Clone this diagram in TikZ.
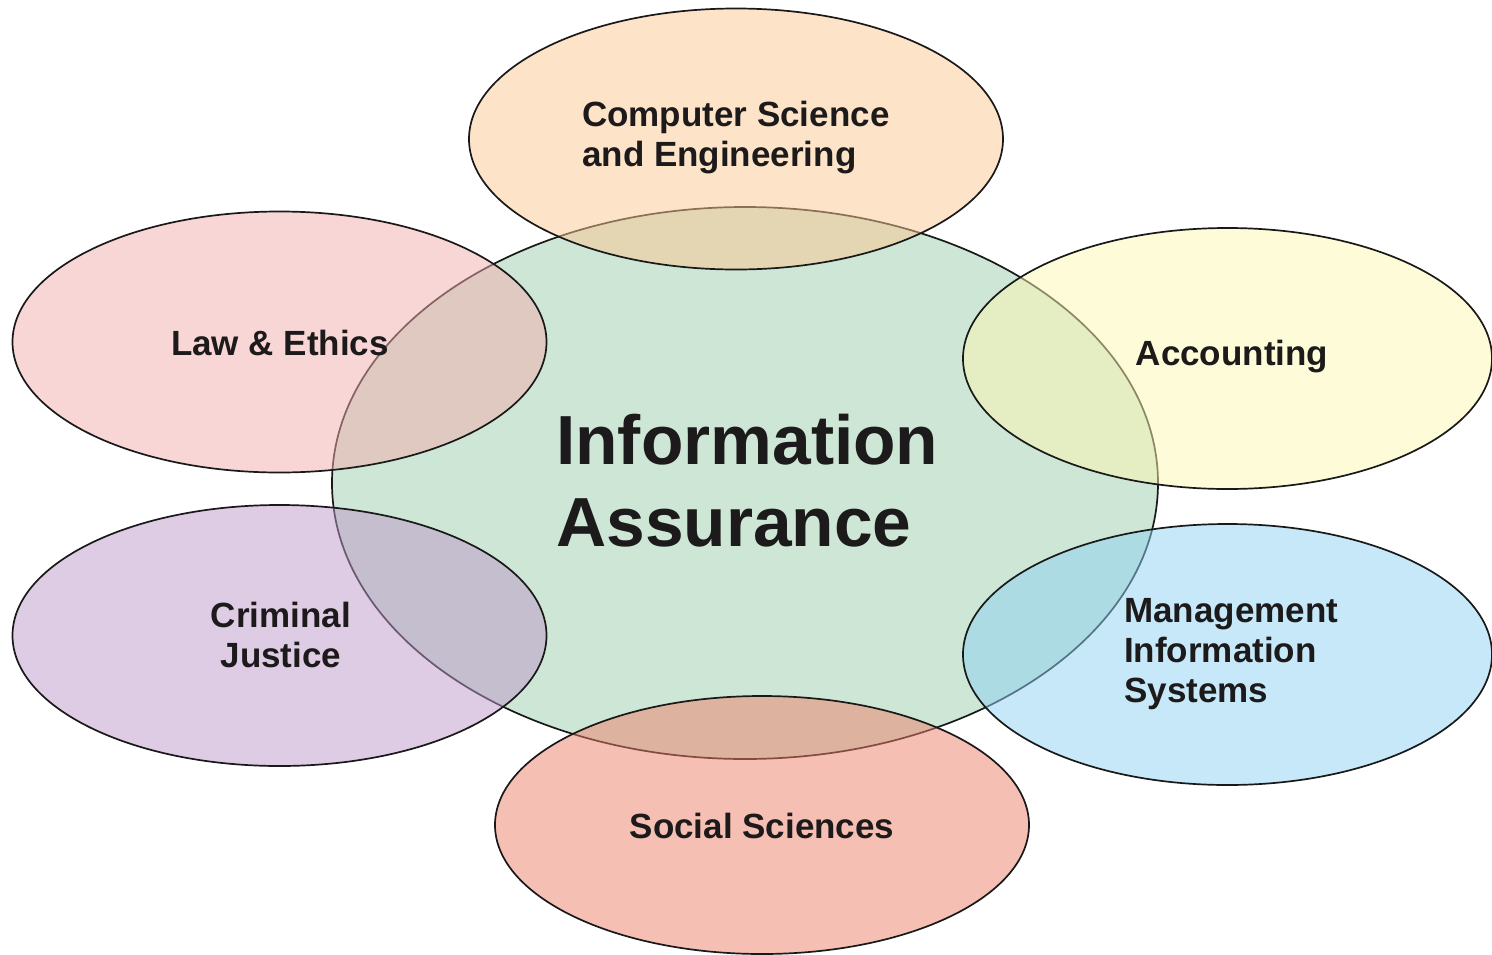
\documentclass[tikz,border=0pt]{standalone}
\usepackage{fontspec}
\setmainfont{Liberation Sans}
\usetikzlibrary{shapes.geometric}
\definecolor{iagreen}{RGB}{205,230,214}
\definecolor{cscol}{RGB}{251,199,145}
\definecolor{lawcol}{RGB}{243,173,173}
\definecolor{acccol}{RGB}{253,247,177}
\definecolor{cjcol}{RGB}{189,151,201}
\definecolor{miscol}{RGB}{141,209,241}
\definecolor{sscol}{RGB}{237,127,105}
\definecolor{txtcol}{RGB}{28,26,26}
\begin{document}
\begin{tikzpicture}[x=1pt,y=-1pt,
  blob/.style={ellipse, draw=black!90, line width=1.7pt, inner sep=0pt},
  outer/.style={blob, fill opacity=0.5, minimum width=534pt, minimum height=261pt},
  lbl/.style={font=\bfseries\fontsize{35}{40}\selectfont, text=txtcol, inner sep=0pt},
  big/.style={font=\bfseries\fontsize{69.5}{82}\selectfont, text=txtcol, inner sep=0pt}]
\useasboundingbox (0,0) rectangle (1492,954);
\node[blob, fill=iagreen, minimum width=826pt, minimum height=552pt] (ia) at (745,483) {};
\node[outer, fill=cscol] (cs) at (736,139) {};
\node[outer, fill=lawcol] (law) at (279.5,342) {};
\node[outer, fill=acccol, minimum width=529pt] (acc) at (1227.5,358.5) {};
\node[outer, fill=cjcol] (cj) at (279.5,635.5) {};
\node[outer, fill=miscol, minimum width=529pt] (mis) at (1227.5,654.5) {};
\node[outer, fill=sscol, minimum height=258pt] (ss) at (762,825) {};
% labels
\node[big, align=left, anchor=west] (tia) at (556,481) {Information\\Assurance};
\node[lbl, align=left, anchor=west] (tcs) at (582,138) {Computer Science\\and Engineering};
\node[lbl] (tlaw) at (280,343) {Law \& Ethics};
\node[lbl] (tacc) at (1232,357) {Accounting};
\node[lbl, align=center] (tcj) at (281,635) {Criminal\\Justice};
\node[lbl, align=left, anchor=west] (tmis) at (1124,654) {Management\\Information\\Systems};
\node[lbl] (tss) at (762,826) {Social Sciences};
\end{tikzpicture}
\end{document}
